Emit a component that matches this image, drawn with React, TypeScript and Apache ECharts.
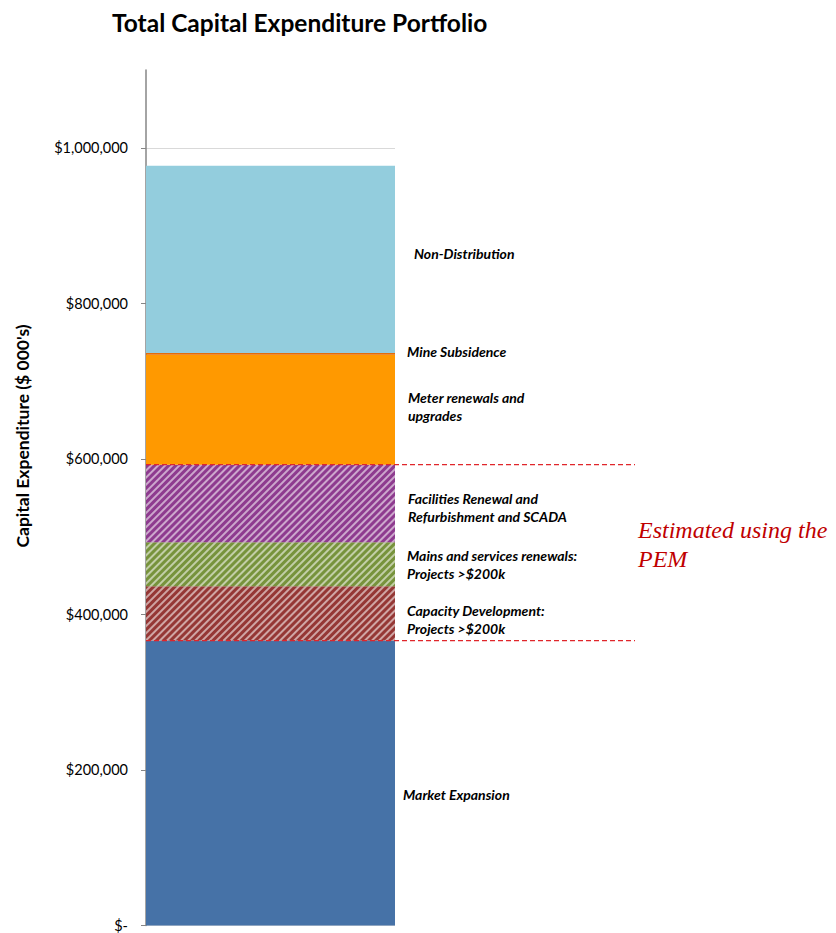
import React, { useEffect, useRef } from "react";
import * as echarts from "echarts";

const categories = ["Total"];
const segmentNames = [
  "Market Expansion",
  "Capacity Development",
  "Mains and services renewals",
  "Facilities Renewal and Refurbishment and SCADA",
  "Meter renewals and upgrades",
  "Mine Subsidence",
  "Non-Distribution",
];
const segmentValues = [366300, 69800, 56600, 99800, 141500, 2000, 241000];
const labelTexts = [
  "Market Expansion",
  "Capacity Development:\nProjects >$200k",
  "Mains and services renewals:\nProjects >$200k",
  "Facilities Renewal and\nRefurbishment and SCADA",
  "Meter renewals and\nupgrades",
  "Mine Subsidence",
  "Non-Distribution",
];
const yTickValues = [0, 200000, 400000, 600000, 800000, 1000000];
const yMax = 1100000;
// segments estimated using the PEM: index range (inclusive)
const pemFirst = 1;
const pemLast = 3;

const colors = ["#4672a7", "#953735", "#77933c", "#8e3b8f", "#ff9900", "#e46c0a", "#93cddd"];
const hatched = [false, true, true, true, false, false, false];
const labelDistance = [8, 12, 12, 13, 13, 12, 19];
const labelDy = [11.5, 6, 0, 3.5, -3.5, -2, -6];

const FONT = "Lato, 'Open Sans', sans-serif";

export default function App() {
  const ref = useRef<HTMLDivElement>(null);
  useEffect(() => {
    document.body.style.margin = "0";
    const chart = echarts.init(ref.current!, null, { renderer: "svg" });
    const splitColors = yTickValues.map(() => "#d9d9d9").concat(["rgba(0,0,0,0)"]);
    const series = segmentValues.map((v, i) => ({
      name: segmentNames[i],
      type: "bar",
      stack: "total",
      barWidth: "100%",
      data: [v],
      itemStyle: {
        color: colors[i],
        decal: hatched[i]
          ? {
              symbol: "rect",
              symbolSize: 1,
              color: "rgba(255,255,255,0.55)",
              dashArrayX: [1, 0],
              dashArrayY: [1.4, 2.3],
              rotation: -Math.PI / 4,
            }
          : undefined,
      },
      label: {
        show: true,
        position: "right",
        distance: labelDistance[i],
        offset: [0, labelDy[i]],
        formatter: labelTexts[i],
        fontFamily: FONT,
        fontStyle: "italic",
        fontWeight: "bold",
        fontSize: 14,
        lineHeight: 18,
        color: "#000",
        align: "left",
      },
      emphasis: { disabled: true },
    }));
    chart.setOption({
      animation: false,
      title: {
        text: "Total Capital Expenditure Portfolio",
        left: 107,
        top: 5,
        textStyle: { fontFamily: FONT, fontSize: 24.5, fontWeight: "bold", color: "#000" },
      },
      grid: { left: 146, right: 441, top: 70, bottom: 7, containLabel: false },
      xAxis: {
        type: "category",
        data: categories,
        show: false,
      },
      yAxis: {
        type: "value",
        min: 0,
        max: yMax,
        interval: 200000,
        axisLine: { show: true, lineStyle: { color: "#868686", width: 1.5 } },
        axisTick: {
          show: true,
          length: 5,
          lineStyle: { color: "#868686" },
          customValues: yTickValues,
        },
        axisLabel: {
          customValues: yTickValues,
          margin: 18,
          fontFamily: FONT,
          fontSize: 14.5,
          color: "#000",
          formatter: (v: number) => (v === 0 ? "$-" : "$" + v.toLocaleString("en-US")),
        },
        splitLine: { show: true, lineStyle: { color: splitColors, width: 1 } },
      },
      series,
    });

    const cum = (n: number) => segmentValues.slice(0, n).reduce((a, b) => a + b, 0);
    const lowY = chart.convertToPixel({ yAxisIndex: 0 }, cum(pemFirst)) as number;
    const highY = chart.convertToPixel({ yAxisIndex: 0 }, cum(pemLast + 1)) as number;
    const x0 = chart.convertToPixel({ xAxisIndex: 0 }, 0) as number;
    const left = x0 - 124.5;
    const dash = { stroke: "#e0262b", lineWidth: 1.2, lineDash: [5, 3] };
    chart.setOption({
      graphic: [
        {
          type: "line",
          z: 100,
          shape: { x1: left, y1: highY, x2: 635, y2: highY },
          style: dash,
        },
        {
          type: "line",
          z: 100,
          shape: { x1: left, y1: lowY, x2: 635, y2: lowY },
          style: dash,
        },
        {
          type: "text",
          left: 638,
          top: 515,
          style: {
            text: "Estimated using the\nPEM",
            font: "italic 24px 'Liberation Serif', 'DejaVu Serif', serif",
            fill: "#c00000",
            lineHeight: 29,
          },
        },
        {
          type: "text",
          x: 22,
          y: 436,
          rotation: Math.PI / 2,
          style: {
            text: "Capital Expenditure ($ 000's)",
            font: "bold 17.5px " + FONT,
            fill: "#000",
            align: "center",
            verticalAlign: "middle",
          },
        },
      ],
    });
    return () => chart.dispose();
  }, []);
  return <div ref={ref} style={{ width: 836, height: 933 }} />;
}
